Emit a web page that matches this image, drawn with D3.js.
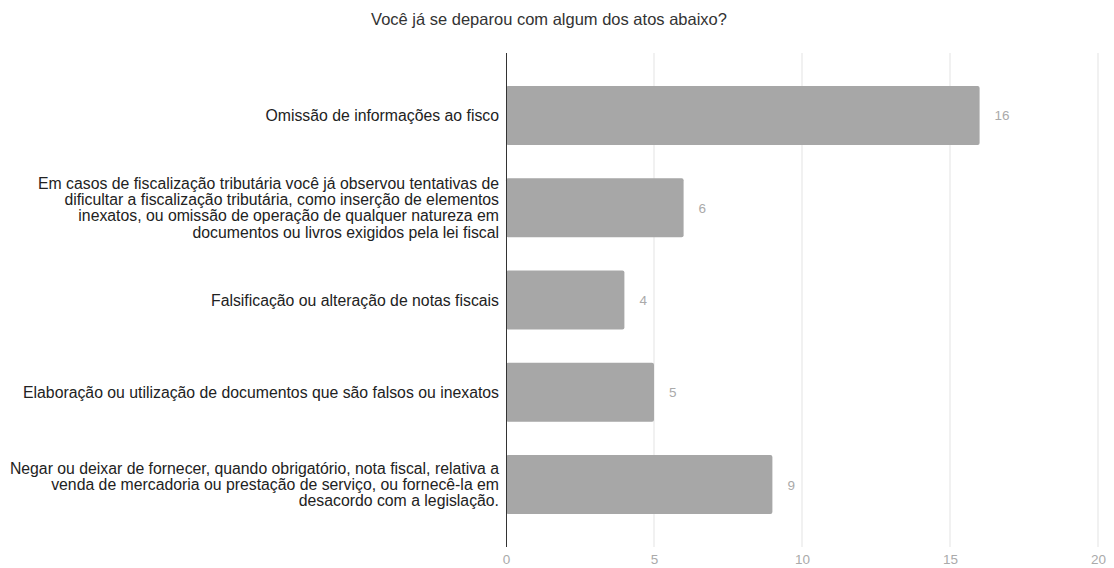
<!DOCTYPE html>
<html><head><meta charset="utf-8">
<script src="https://cdn.jsdelivr.net/npm/d3@7"></script>
<style>body{margin:0;background:#fff;} svg{display:block;}</style>
</head><body>
<svg id="c" width="1114" height="568"></svg>
<script>
const title = "Você já se deparou com algum dos atos abaixo?";
const categories = [
  "Omissão de informações ao fisco",
  "Em casos de fiscalização tributária você já observou tentativas de\ndificultar a fiscalização tributária, como inserção de elementos\ninexatos, ou omissão de operação de qualquer natureza em\ndocumentos ou livros exigidos pela lei fiscal",
  "Falsificação ou alteração de notas fiscais",
  "Elaboração ou utilização de documentos que são falsos ou inexatos",
  "Negar ou deixar de fornecer, quando obrigatório, nota fiscal, relativa a\nvenda de mercadoria ou prestação de serviço, ou fornecê-la em\ndesacordo com a legislação."
];
const values = [16, 6, 4, 5, 9];
const xTicks = [0, 5, 10, 15, 20];

(function() {
const svg = d3.select("#c");
const pL = 506, pR = 1098, pT = 53, pB = 547;
const font = "'Liberation Sans', Arial, sans-serif";

const x = d3.scaleLinear().domain([0, 20]).range([pL, pR]);
const y = d3.scaleBand().domain(d3.range(categories.length)).range([pT, pB])
  .paddingInner(0.36).paddingOuter(0.357);

svg.append("text").attr("x", 549).attr("y", 25).attr("text-anchor", "middle")
  .attr("font-family", font).attr("font-size", 16.5).attr("fill", "#333").text(title);

svg.append("g").selectAll("line").data(xTicks.filter(d => d > 0)).join("line")
  .attr("x1", d => x(d)).attr("x2", d => x(d)).attr("y1", pT).attr("y2", pB)
  .attr("stroke", "#e3e3e3").attr("stroke-width", 1);

svg.append("g").selectAll("rect").data(values).join("rect")
  .attr("x", x(0)).attr("y", (d, i) => y(i))
  .attr("width", d => x(d) - x(0)).attr("height", y.bandwidth())
  .attr("rx", 2).attr("fill", "#a7a7a7");

svg.append("line").attr("x1", x(0) + 0.5).attr("x2", x(0) + 0.5).attr("y1", pT).attr("y2", pB)
  .attr("stroke", "#333").attr("stroke-width", 1);

svg.append("g").selectAll("text").data(values).join("text")
  .attr("x", d => x(d) + 15).attr("y", (d, i) => y(i) + y.bandwidth() / 2 + 5)
  .attr("font-family", font).attr("font-size", 13.5).attr("fill", "#aaa").text(d => d);

const xAxis = d3.axisBottom(x).tickValues(xTicks).tickSize(0).tickPadding(0);
const gx = svg.append("g").attr("transform", `translate(0,${pB + 7})`).call(xAxis);
gx.select(".domain").remove();
gx.selectAll("text").attr("font-family", font).attr("font-size", 13.5).attr("fill", "#aaa");

const lh = 16.4;
const lab = svg.append("g").selectAll("text").data(categories).join("text")
  .attr("text-anchor", "end").attr("font-family", font).attr("font-size", 15.8).attr("fill", "#222");
lab.each(function(d, i) {
  const lines = d.split("\n");
  const cy = y(i) + y.bandwidth() / 2;
  const y0 = cy - (lines.length - 1) * lh / 2 + 5.5;
  d3.select(this).selectAll("tspan").data(lines).join("tspan")
    .attr("x", 499).attr("y", (l, k) => y0 + k * lh).text(l => l);
});
})();
</script>
</body></html>
